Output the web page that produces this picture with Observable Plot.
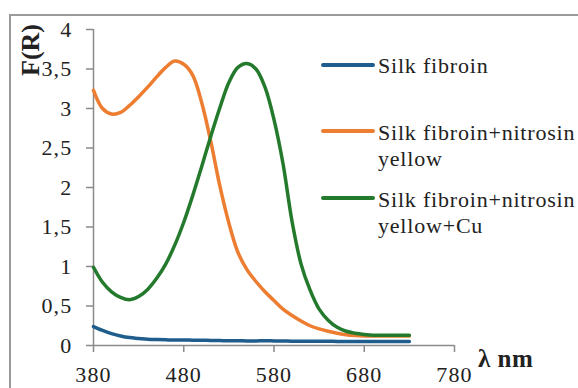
<!DOCTYPE html>
<html>
<head>
<meta charset="utf-8">
<script src="https://cdn.jsdelivr.net/npm/d3@7"></script>
<script src="https://cdn.jsdelivr.net/npm/@observablehq/plot@0.6"></script>
<style>
  html, body { margin: 0; padding: 0; background: #fff; }
  #wrap { position: relative; width: 578px; height: 388px; overflow: hidden; font-family: "Liberation Serif", "Times New Roman", serif; color: #222; }
  #frame { position: absolute; left: 9px; top: 14px; width: 700px; height: 500px; border-left: 2px solid #9a9a9a; border-top: 2px solid #9a9a9a; }
  #chart { position: absolute; left: 0; top: 0; }
  #chart svg text { letter-spacing: 1.2px; }
  .lg-line { position: absolute; left: 321px; width: 54px; height: 3.5px; border-radius: 2px; }
  .lg-text { position: absolute; left: 378px; font-size: 22px; line-height: 26px; letter-spacing: 0.8px; white-space: nowrap; }
  #ylab { position: absolute; left: 31px; top: 50px; transform: translate(-50%, -50%) rotate(-90deg); font-weight: bold; font-size: 26px; white-space: nowrap; line-height: 1; }
  #xlab { position: absolute; left: 478px; top: 345px; font-weight: bold; font-size: 25px; letter-spacing: 0.5px; white-space: nowrap; line-height: normal; }
</style>
</head>
<body>
<div id="wrap">
  <div id="frame"></div>
  <div id="chart"></div>
  <div id="ylab">F(R)</div>
  <div id="xlab">λ nm</div>
  <div id="legend"></div>
</div>
<script>
// Data
const wavelength = [380, 390, 400, 410, 420, 430, 440, 450, 460, 470, 480, 490, 500, 510, 520, 530, 540, 550, 560, 570, 580, 590, 600, 610, 620, 630, 640, 650, 660, 670, 680, 690, 700, 710, 720, 730];
const silkFibroin = [0.24, 0.19, 0.15, 0.12, 0.10, 0.09, 0.08, 0.075, 0.072, 0.07, 0.07, 0.068, 0.066, 0.064, 0.062, 0.06, 0.06, 0.058, 0.058, 0.06, 0.058, 0.056, 0.055, 0.055, 0.054, 0.053, 0.053, 0.052, 0.052, 0.052, 0.051, 0.051, 0.05, 0.05, 0.05, 0.05];
const silkNitrosin = [3.23, 3.00, 2.93, 2.95, 3.04, 3.15, 3.27, 3.40, 3.52, 3.60, 3.56, 3.42, 3.07, 2.58, 2.02, 1.55, 1.18, 0.96, 0.81, 0.68, 0.57, 0.46, 0.38, 0.31, 0.25, 0.21, 0.18, 0.155, 0.135, 0.125, 0.12, 0.12, 0.12, 0.12, 0.12, 0.12];
const silkNitrosinCu = [0.99, 0.80, 0.68, 0.61, 0.58, 0.62, 0.71, 0.85, 1.03, 1.27, 1.56, 1.90, 2.27, 2.65, 3.01, 3.33, 3.52, 3.57, 3.50, 3.27, 2.86, 2.30, 1.57, 1.03, 0.70, 0.46, 0.32, 0.23, 0.18, 0.155, 0.14, 0.13, 0.13, 0.13, 0.13, 0.13];

const seriesNames = ["Silk fibroin", "Silk fibroin+nitrosin\nyellow", "Silk fibroin+nitrosin\nyellow+Cu"];
const seriesColors = ["#1f5e8c", "#ed7d31", "#237a2c"];
const xTicks = [380, 480, 580, 680, 780];
const yTicks = [0, 0.5, 1, 1.5, 2, 2.5, 3, 3.5, 4];

const seriesValues = [silkFibroin, silkNitrosin, silkNitrosinCu];
const rows = [];
seriesValues.forEach((vals, s) => {
  vals.forEach((v, i) => rows.push({series: seriesNames[s], x: wavelength[i], y: v}));
});

const fmt = d => String(d).replace(".", ",");

const chart = Plot.plot({
  width: 578,
  height: 388,
  marginLeft: 93,
  marginRight: 124,
  marginTop: 29,
  marginBottom: 43,
  style: {fontFamily: "'Liberation Serif', 'Times New Roman', serif", fontSize: "22px", color: "#222", background: "transparent"},
  x: {domain: [380, 780], label: null},
  y: {domain: [0, 4], label: null},
  color: {domain: seriesNames, range: seriesColors},
  marks: [
    Plot.ruleX([380], {y1: 0, y2: 4, stroke: "#8a8a8a", strokeWidth: 1.5}),
    Plot.ruleY([0], {x1: 380, x2: 780, stroke: "#8a8a8a", strokeWidth: 1.5}),
    Plot.axisY({ticks: yTicks, tickFormat: fmt, tickSize: 7, tickPadding: 14, stroke: "#8a8a8a", strokeWidth: 1.5, color: "#222", fontSize: 22, label: null}),
    Plot.axisX({ticks: xTicks, tickFormat: d => String(d), tickSize: 7, tickPadding: 14, stroke: "#8a8a8a", strokeWidth: 1.5, color: "#222", fontSize: 22, label: null}),
    Plot.line(rows, {x: "x", y: "y", z: "series", stroke: "series", strokeWidth: 3.5, curve: "catmull-rom"})
  ]
});
document.getElementById("chart").appendChild(chart);

// Legend
const legend = document.getElementById("legend");
const lineY = [65, 131, 198];
const textTop = [52.6, 119.6, 186.6];
seriesNames.forEach((name, i) => {
  const l = document.createElement("div");
  l.className = "lg-line";
  l.style.top = (lineY[i] - 1.75) + "px";
  l.style.background = seriesColors[i];
  legend.appendChild(l);
  const t = document.createElement("div");
  t.className = "lg-text";
  t.style.top = textTop[i] + "px";
  t.innerHTML = name.split("\n").join("<br>");
  legend.appendChild(t);
});
</script>
</body>
</html>
